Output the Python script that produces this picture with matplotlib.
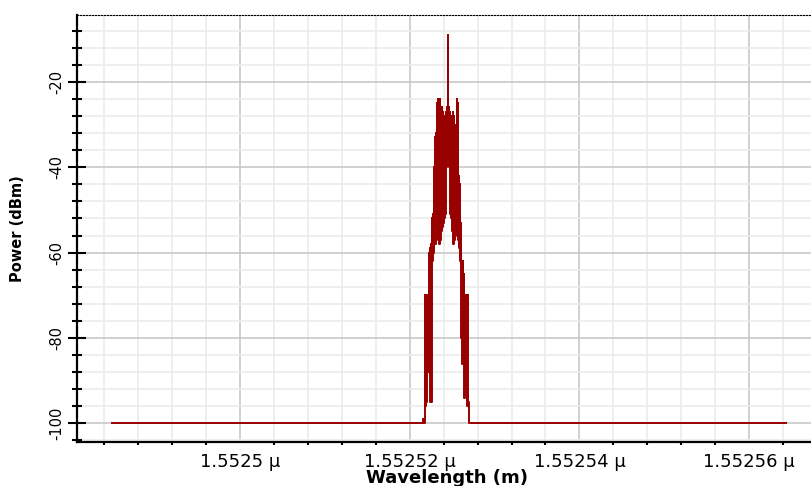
import numpy as np
import matplotlib
matplotlib.use("Agg")
import matplotlib.pyplot as plt
from matplotlib.ticker import MultipleLocator, FixedLocator, FuncFormatter

plt.rcParams["axes.unicode_minus"] = False

# spectrum, wavelength in micrometres, power in dBm
wl_start = 1.55248492
wl_end = 1.55256439
noise_floor = -100.0

# peak region, sampled on a regular wavelength grid
peak_start = 1.55252144
peak_step = 1.178e-7
peak_upper = [-100, -99, -99, -70, -71, -70, -70, -60, -59, -58,
              -52, -51, -40, -33, -32, -25, -24, -25, -24, -27,
              -26, -27, -29, -28, -27, -26, -9, -26, -27, -28,
              -29, -27, -28, -33, -30, -24, -25, -42, -44, -53,
              -62, -62, -65, -70, -70, -70, -70, -100, -100]
peak_lower = [-100, -100, -100, -96, -95, -88, -88, -87, -95, -95,
              -62, -60, -58, -58, -56, -55, -57, -58, -57, -55,
              -54, -53, -52, -51, -40, -38, -38, -40, -51, -52,
              -55, -58, -57, -55, -54, -56, -57, -59, -62, -80,
              -86, -85, -94, -90, -92, -96, -95, -100, -100]

xtick_vals = [1.5525, 1.55252, 1.55254, 1.55256]
ytick_vals = [-100, -80, -60, -40, -20]
x_range = (1.5524808, 1.5525674)
y_range = (-104.29, -4.35)

# build the trace: flat floor, then the peak (upper/lower samples interleaved)
n = len(peak_upper)
px = []
py = []
for i in range(n):
    px.append(peak_start + i * peak_step)
    py.append(peak_upper[i])
    px.append(peak_start + (i + 0.5) * peak_step)
    py.append(peak_lower[i])
x = np.array([wl_start] + px + [wl_end])
y = np.array([noise_floor] + py + [noise_floor])

fig = plt.figure(figsize=(8.12, 4.86), dpi=100)
ax = fig.add_axes([77 / 812, 1 - 441.7 / 486, (812 - 77) / 812, (441.7 - 15) / 486])

ax.plot(x, y, color="#990000", lw=1.4, drawstyle="steps-mid")

ax.set_xlim(*x_range)
ax.set_ylim(*y_range)

ax.xaxis.set_major_locator(FixedLocator(xtick_vals))
ax.xaxis.set_minor_locator(MultipleLocator(0.000004))
ax.yaxis.set_major_locator(FixedLocator(ytick_vals))
ax.yaxis.set_minor_locator(MultipleLocator(4))
ax.xaxis.set_major_formatter(FuncFormatter(lambda v, p: f"{v:.5f}".rstrip("0") + " μ"))

ax.set_axisbelow(True)
ax.grid(which="major", color="#c8c8c8", lw=1.2)
ax.grid(which="minor", color="#ebebeb", lw=1.2)

ax.spines["right"].set_visible(False)
ax.spines["left"].set_linewidth(1.6)
ax.spines["bottom"].set_linewidth(1.6)
ax.spines["top"].set_linewidth(0.8)
ax.spines["top"].set_linestyle((0, (1.2, 1.5)))

ax.tick_params(axis="y", which="major", direction="inout", length=13, width=1.5,
               labelsize=10.5, labelrotation=90, pad=3)
ax.tick_params(axis="y", which="minor", direction="inout", length=6.5, width=1.5)
ax.tick_params(axis="x", which="major", length=0, labelsize=13, pad=8)
ax.tick_params(axis="x", which="minor", direction="out", length=2.5, width=1.5)
for lab in ax.get_yticklabels():
    lab.set_va("center")

fig.text(447 / 812, 1 - 478 / 486, "Wavelength (m)", ha="center", va="center",
         fontsize=13, fontweight="bold")
fig.text(18 / 812, 1 - 228.5 / 486, "Power (dBm)", ha="center", va="center",
         rotation=90, fontsize=10.5, fontweight="bold")

fig.savefig("out.png", dpi=100)
